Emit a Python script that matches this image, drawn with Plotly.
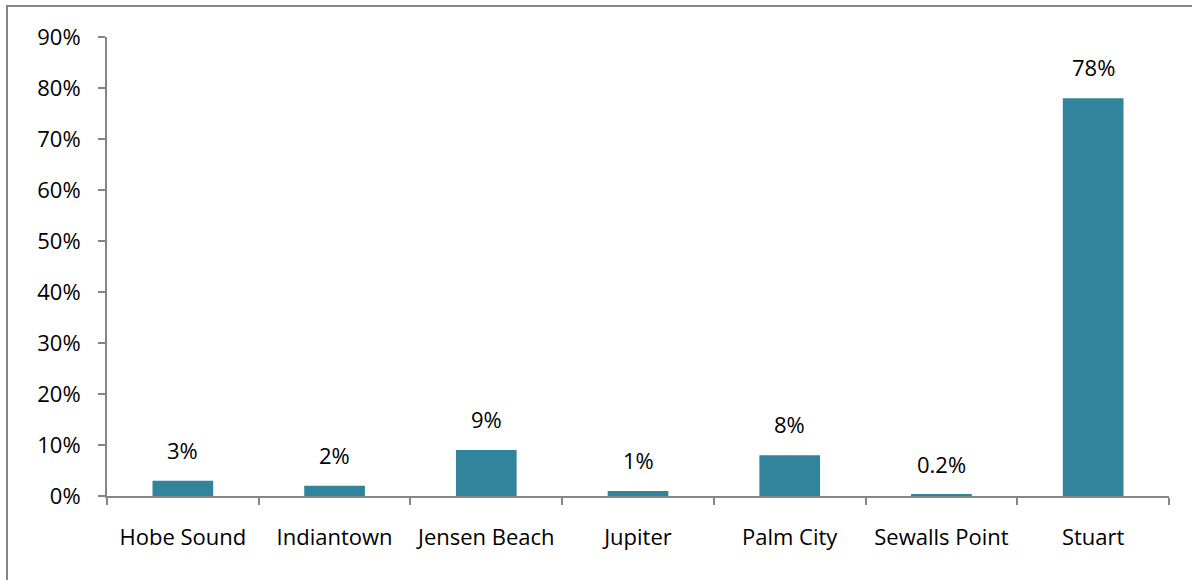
import plotly.graph_objects as go

categories = ["Hobe Sound", "Indiantown", "Jensen Beach", "Jupiter", "Palm City", "Sewalls Point", "Stuart"]
values = [0.03, 0.02, 0.09, 0.01, 0.08, 0.002, 0.78]
labels = ["3%", "2%", "9%", "1%", "8%", "0.2%", "78%"]
y_ticks = [i / 10 for i in range(10)]
y_tick_labels = [f"{i*10}%" for i in range(10)]

W, H = 1192, 580
L, R, T, B = 107, 23, 37, 84
pw, ph = W - L - R, H - T - B
FONT = "Open Sans"
FS = 22

fig = go.Figure(go.Bar(
    x=categories, y=values,
    marker=dict(color="#31849B", line=dict(width=0)),
    hoverinfo="x+y",
))

annotations = [
    dict(x=c, y=v, text=t, xref="x", yref="y", showarrow=False,
         yanchor="bottom", yshift=14, font=dict(family=FONT, size=FS, color="#000000"))
    for c, v, t in zip(categories, values, labels)
]

axis_color = "#868686"
fig.update_layout(
    width=W, height=H,
    margin=dict(l=L, r=R, t=T, b=B, autoexpand=False),
    paper_bgcolor="white", plot_bgcolor="white",
    font=dict(family=FONT, size=FS, color="#000000"),
    bargap=0.6, showlegend=False,
    annotations=annotations,
    xaxis=dict(showline=True, linecolor=axis_color, linewidth=2, ticks="outside",
               tickson="boundaries", ticklen=7, tickcolor=axis_color, tickwidth=2,
               showgrid=False, tickfont=dict(size=FS), ticklabelstandoff=21,
               automargin=False),
    yaxis=dict(range=[0, 0.9], tickvals=y_ticks, ticktext=y_tick_labels,
               showline=True, linecolor=axis_color, linewidth=2, ticks="outside",
               ticklen=7, tickcolor=axis_color, tickwidth=2, showgrid=False,
               zeroline=False, tickfont=dict(size=FS), ticklabelstandoff=13,
               automargin=False),
    shapes=[dict(type="rect", xref="paper", yref="paper",
                 x0=(7 - L) / pw, x1=(W + 5 - L) / pw,
                 y0=-(H + 5 - T - ph) / ph, y1=(T + ph - 6) / ph,
                 line=dict(color=axis_color, width=2), layer="below")],
)

fig.write_html("out.html", config={"displayModeBar": False},
               post_script="document.body.style.margin='0';document.body.style.padding='0';")
